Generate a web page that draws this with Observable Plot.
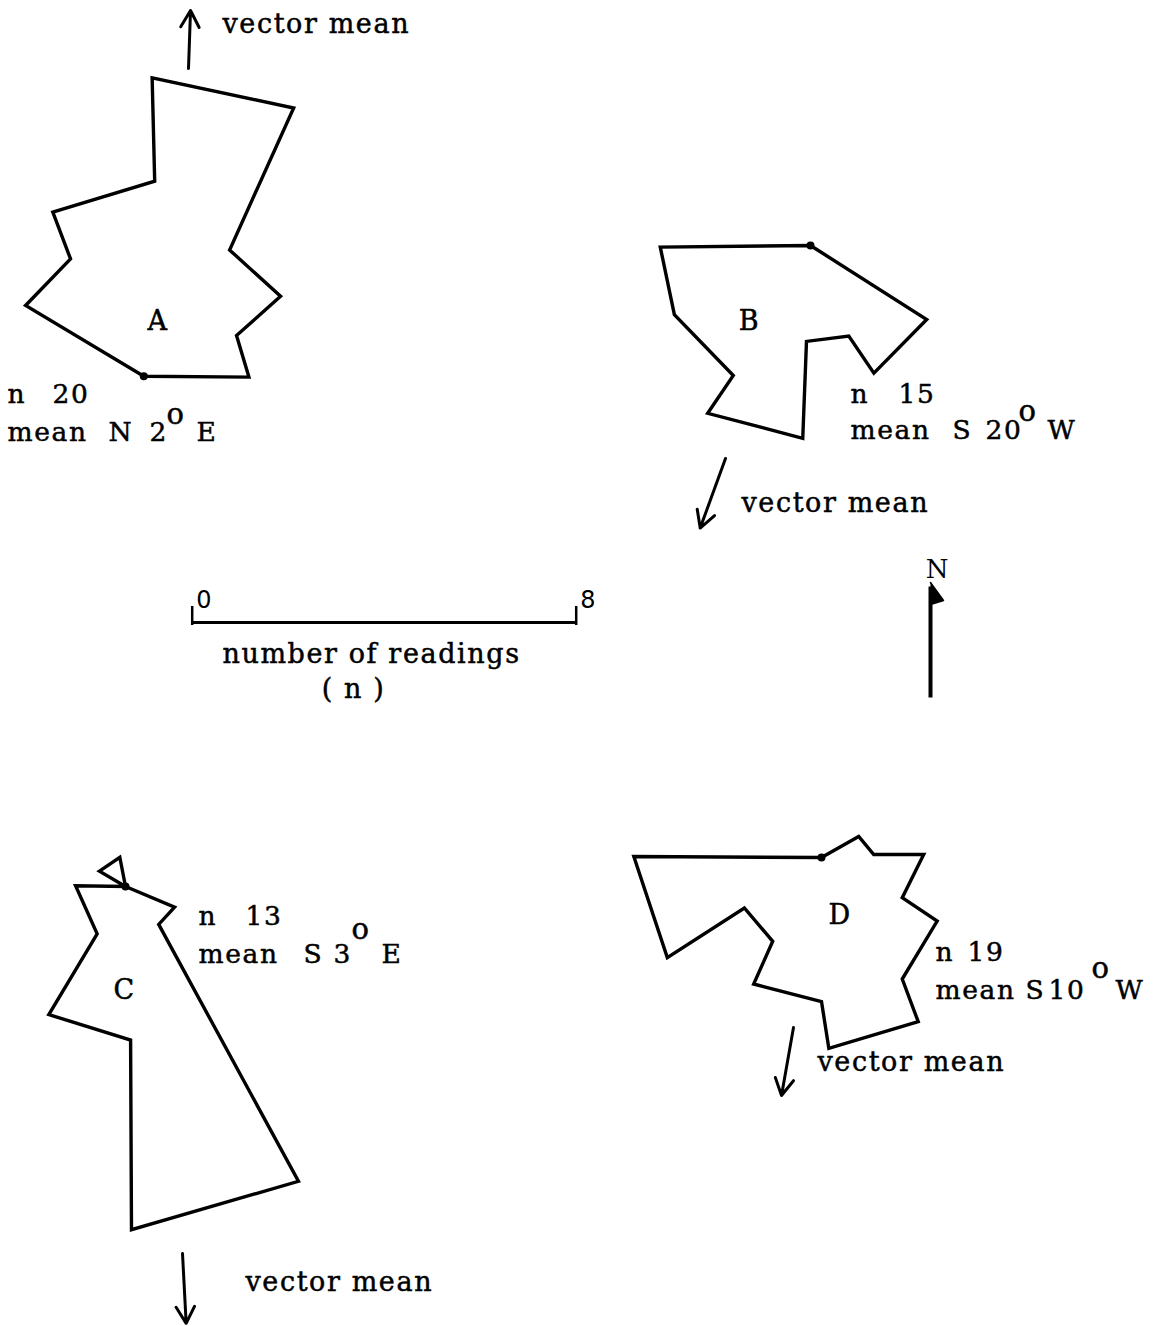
<!DOCTYPE html>
<html><head><meta charset="utf-8">
<script src="https://cdn.jsdelivr.net/npm/d3@7"></script>
<script src="https://cdn.jsdelivr.net/npm/@observablehq/plot@0.6"></script>
<style>html,body{margin:0;padding:0;background:#fff;} svg{display:block}</style>
</head><body><div id="chart"></div>
<script>
// ---------------- data ----------------
const roseIds = ["A", "B", "C", "D"];
const roseN = [20, 15, 13, 19];
const meanFrom = ["N", "S", "S", "S"];
const meanDeg = [2, 20, 3, 10];
const meanTo = ["E", "W", "E", "W"];
const meanAzimuth = [2, 200, 177, 190];       // vector mean, degrees from north
// polygon vertices: [azimuth°, number of readings]; radius 0 = centre
const roseA = [[0,0],[90.5,2.19],[66.3,2.11],[59.7,3.30],[34.2,3.18],[29.2,6.40],[1.6,6.22],[3.2,4.07],[331.0,3.91],[328.0,2.88],[300.9,2.87],[0,0]];
const roseB = [[0,0],[122.5,2.87],[153.6,2.97],[157.1,2.05],[182.4,2.00],[182.3,4.02],[211.5,4.10],[210.7,3.15],[243.1,3.18],[269.4,3.13],[0,0]];
const roseC = [[0,0],[112.9,1.11],[138.8,1.05],[149.6,7.12],[179.0,7.15],[178.1,3.20],[210.9,3.11],[210.9,1.15],[270.8,1.04],[0,0],[349.0,0.62],[300.5,0.63],[0,0]];
const roseD = [[0,0],[60.6,0.89],[86.7,1.09],[88.3,2.13],[116.5,1.88],[118.8,2.75],[146.4,3.04],[149.5,3.97],[177.8,3.98],[180.0,3.00],[208.2,2.99],[210.2,2.02],[236.8,1.92],[237.0,3.83],[270.3,3.91],[0,0]];
const scaleTicks = [0, 8];
const scaleTitle = ["number of readings", "( n )"];
const arrowLabel = "vector mean";
const northLabel = "N";

// ---------------- layout (page pixels) ----------------
const U = 48; // pixels per reading
const layout = {
  centre: [[143.3, 375.7], [810, 245], [125, 886], [821, 857]],
  letter: [[157.5, 320.5], [749, 320.5], [124, 990], [839.5, 914.5]],
  arrowTail: [[188, 68], [725, 458], [182, 1253], [793, 1027]],
  arrowLen: [58, 74, 70, 69],
  arrowText: [[222, 32], [741, 511], [245, 1290], [817, 1070]],
  stats: [
    {n: [7, 402], num: 52, mean: [7, 440], from: 108, deg: 149, o: 166, oy: 423, to: 196},
    {n: [850, 402], num: 898, mean: [850, 438], from: 952, deg: 985, o: 1018, oy: 420, to: 1047},
    {n: [198, 924], num: 245, mean: [198, 962], from: 303, deg: 333, o: 351, oy: 938, to: 381},
    {n: [935, 960], num: 967, mean: [935, 998], from: 1025, deg: 1048, o: 1091, oy: 977, to: 1115}
  ],
  bar: {x0: 191.7, y: 622, tickTop: 606, tickBottom: 625, labelY: 607},
  barTitle: [[371, 662], [353, 697]],
  north: {x: 930, base: 697, len: 115, label: [937.5, 577]}
};
const P = v => v / U;
const rad = Math.PI / 180;

const verts = [roseA, roseB, roseC, roseD];
const polyRows = verts.flatMap((vs, i) => vs.map(([az, r]) => ({
  id: roseIds[i],
  px: P(layout.centre[i][0]) + r * Math.sin(az * rad),
  py: P(layout.centre[i][1]) - r * Math.cos(az * rad)
})));
const centreRows = roseIds.map((id, i) => ({id, x: P(layout.centre[i][0]), y: P(layout.centre[i][1])}));
const letterRows = roseIds.map((id, i) => ({id, x: P(layout.letter[i][0]), y: P(layout.letter[i][1])}));
const arrowRows = roseIds.map((id, i) => {
  const [tx, ty] = layout.arrowTail[i], L = layout.arrowLen[i], a = meanAzimuth[i] * rad;
  return {id, x1: P(tx), y1: P(ty), x2: P(tx + L * Math.sin(a)), y2: P(ty - L * Math.cos(a))};
});
const arrowTextRows = roseIds.map((id, i) => ({text: arrowLabel, x: P(layout.arrowText[i][0]), y: P(layout.arrowText[i][1])}));
const statRows = roseIds.flatMap((id, i) => {
  const S = layout.stats[i];
  return [
    {text: "n", x: S.n[0], y: S.n[1]},
    {text: String(roseN[i]), x: S.num, y: S.n[1]},
    {text: "mean", x: S.mean[0], y: S.mean[1]},
    {text: meanFrom[i], x: S.from, y: S.mean[1]},
    {text: String(meanDeg[i]), x: S.deg, y: S.mean[1]},
    {text: meanTo[i], x: S.to, y: S.mean[1]}
  ].map(d => ({...d, x: P(d.x), y: P(d.y)}));
});
const degreeRows = roseIds.map((id, i) => ({text: "o", x: P(layout.stats[i].o), y: P(layout.stats[i].oy)}));
const titleRows = scaleTitle.map((t, i) => ({text: t, x: P(layout.barTitle[i][0]), y: P(layout.barTitle[i][1])}));

const B = layout.bar;
const barRows = [{x1: P(B.x0) + scaleTicks[0], x2: P(B.x0) + scaleTicks[1], y: P(B.y)}];
const northN = layout.north;
const northTri = [[northN.x, northN.base - northN.len], [northN.x + 13, northN.base - northN.len + 18], [northN.x, northN.base - northN.len + 22]].map(([x, y]) => ({x: P(x), y: P(y)}));

const SERIF = "DejaVu Serif";
const ink = {fill: "black", stroke: "black", strokeWidth: 0.5};
const chart = Plot.plot({
  width: 1168, height: 1326, margin: 0,
  x: {domain: [0, 1168 / U], range: [0, 1168], axis: null},
  y: {domain: [0, 1326 / U], range: [0, 1326], axis: null},
  style: {background: "white", color: "black"},
  marks: [
    Plot.line(polyRows, {x: "px", y: "py", z: "id", stroke: "black", strokeWidth: 3.4, strokeLinejoin: "miter", strokeMiterlimit: 6, strokeLinecap: "round"}),
    Plot.dot(centreRows, {x: "x", y: "y", r: 4, fill: "black"}),
    Plot.text(letterRows, {x: "x", y: "y", text: "id", fontFamily: SERIF, fontSize: 27, ...ink, textAnchor: "middle"}),
    Plot.arrow(arrowRows, {x1: "x1", y1: "y1", x2: "x2", y2: "y2", stroke: "black", strokeWidth: 3, headLength: 9.5, headAngle: 58}),
    Plot.text(arrowTextRows, {x: "x", y: "y", text: "text", fontFamily: SERIF, fontSize: 27, ...ink, textAnchor: "start", lineAnchor: "bottom"}),
    Plot.text(statRows, {x: "x", y: "y", text: "text", fontFamily: SERIF, fontSize: 26.5, ...ink, textAnchor: "start", lineAnchor: "bottom"}),
    Plot.text(degreeRows, {x: "x", y: "y", text: "text", fontFamily: SERIF, fontSize: 29, ...ink, textAnchor: "start", lineAnchor: "bottom"}),
    // scale bar
    Plot.link(barRows, {x1: "x1", x2: "x2", y1: "y", y2: "y", stroke: "black", strokeWidth: 3}),
    Plot.ruleX(scaleTicks, {x: d => P(B.x0) + d, y1: P(B.tickTop), y2: P(B.tickBottom), stroke: "black", strokeWidth: 2.5}),
    Plot.text(scaleTicks, {x: d => P(B.x0) + d, y: P(B.labelY), text: d => String(d), dx: 4, fontFamily: "DejaVu Sans", fontSize: 24, fill: "black", textAnchor: "start", lineAnchor: "bottom"}),
    Plot.text(titleRows, {x: "x", y: "y", text: "text", fontFamily: SERIF, fontSize: 27, ...ink, textAnchor: "middle", lineAnchor: "bottom"}),
    // north arrow
    Plot.link([northN], {x1: d => P(d.x), x2: d => P(d.x), y1: d => P(d.base), y2: d => P(d.base - d.len + 4), stroke: "black", strokeWidth: 4}),
    Plot.line(northTri, {x: "x", y: "y", fill: "black", stroke: "black", strokeWidth: 1.5, strokeLinejoin: "round"}),
    Plot.text([northLabel], {x: P(northN.label[0]), y: P(northN.label[1]), text: d => d, fontFamily: SERIF, fontSize: 26, fill: "black", textAnchor: "middle", lineAnchor: "bottom"})
  ]
});
d3.select(chart).selectAll("text").each(function () {
  const g = this.closest("[font-family]");
  if (g && g.getAttribute("font-family") === SERIF) this.setAttribute("letter-spacing", "1.6px");
});
document.getElementById("chart").append(chart);
</script></body></html>
